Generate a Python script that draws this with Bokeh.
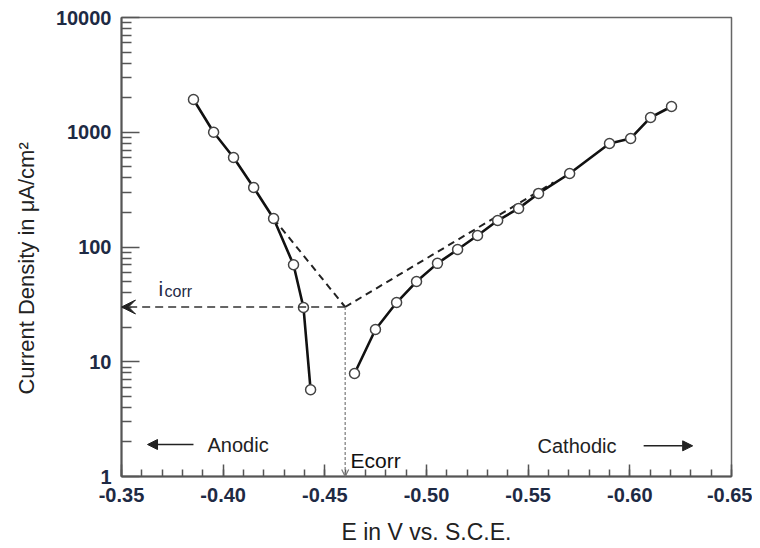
from bokeh.plotting import figure
from bokeh.models import (Range1d, FixedTicker, Arrow, NormalHead, OpenHead, VeeHead)
from bokeh.core.properties import value
from bokeh.embed import file_html
from bokeh.resources import INLINE

# ---- data ----
anodic_E = [-0.3854, -0.3953, -0.4051, -0.4150, -0.4248, -0.4346, -0.4395, -0.4430]
anodic_i = [1930, 1000, 603, 330, 177, 70, 29.7, 5.7]

cathodic_E = [-0.4646, -0.4749, -0.4853, -0.4951, -0.5054, -0.5153, -0.5251, -0.5350,
              -0.5453, -0.5551, -0.5704, -0.5900, -0.6004, -0.6102, -0.6205]
cathodic_i = [7.9, 19.1, 32.8, 50, 72, 95, 126, 170, 217, 293, 437, 798, 883, 1345, 1676]

tafel_anodic_E = [-0.4248, -0.4600]
tafel_anodic_i = [177, 30]
tafel_cathodic_E = [-0.4600, -0.5625]
tafel_cathodic_i = [30, 365]

E_corr = -0.46
i_corr = 30

x_ticks = [-0.35, -0.40, -0.45, -0.50, -0.55, -0.60, -0.65]
x_tick_labels = ["-0.35", "-0.40", "-0.45", "-0.50", "-0.55", "-0.60", "-0.65"]
y_ticks = [1, 10, 100, 1000, 10000]
y_tick_labels = ["1", "10", "100", "1000", "10000"]

FONT = "Liberation Sans"
TICK_COLOR = "#1e2a44"
TEXT_COLOR = "#222222"

p = figure(
    x_range=Range1d(-0.35, -0.65), y_range=Range1d(1, 10000), y_axis_type="log",
    frame_width=610, frame_height=459,
    min_border_left=121, min_border_top=17, min_border_right=21, min_border_bottom=64,
    output_backend="svg", toolbar_location=None,
    background_fill_color="white", border_fill_color="white",
)
p.grid.visible = False
p.outline_line_color = "#666666"
p.outline_line_width = 1.5

x_minor = [round(-0.35 - 0.01 * k, 2) for k in range(31)]
y_minor = [m * 10 ** d for d in range(4) for m in range(2, 10)]
p.xaxis.ticker = FixedTicker(ticks=x_ticks, minor_ticks=x_minor)
p.yaxis.ticker = FixedTicker(ticks=y_ticks, minor_ticks=y_minor)
p.xaxis.major_label_overrides = {t: l for t, l in zip(x_ticks, x_tick_labels)}
p.yaxis.major_label_overrides = {t: l for t, l in zip(y_ticks, y_tick_labels)}

for ax in (p.xaxis, p.yaxis):
    ax.axis_line_color = "#555555"
    ax.axis_line_width = 2
    ax.major_tick_line_color = "#555555"
    ax.minor_tick_line_color = "#555555"
    ax.major_tick_line_width = 1.5
    ax.minor_tick_line_width = 1.5
    ax.major_tick_out = 0
    ax.minor_tick_out = 0
    ax.major_label_text_font = FONT
    ax.major_label_text_font_size = "20px"
    ax.major_label_text_color = TICK_COLOR
    ax.major_label_text_font_style = "bold"
    ax.axis_label_text_font = FONT
    ax.axis_label_text_font_style = "normal"
    ax.axis_label_text_color = TEXT_COLOR

p.xaxis.major_tick_in = 12
p.xaxis.minor_tick_in = 7
p.yaxis.major_tick_in = 18
p.yaxis.minor_tick_in = 10
p.xaxis.major_label_standoff = 11
p.yaxis.major_label_standoff = 10
p.xaxis.axis_label = "E in V vs. S.C.E."
p.xaxis.axis_label_text_font_size = "23px"
p.xaxis.axis_label_standoff = 14
p.yaxis.axis_label = "Current Density in \u03bcA/cm\u00b2" + "\u00a0" * 7
p.yaxis.axis_label_text_font_size = "22px"
p.yaxis.axis_label_standoff = 14

# Tafel extrapolations
p.line(tafel_anodic_E, tafel_anodic_i, line_color="#222222", line_width=2, line_dash="7 5")
p.line(tafel_cathodic_E, tafel_cathodic_i, line_color="#222222", line_width=2, line_dash="7 5")

# i_corr horizontal arrow and E_corr vertical arrow
p.add_layout(Arrow(x_start=E_corr, y_start=i_corr, x_end=-0.35, y_end=i_corr,
                   line_color="#333333", line_width=1.5, line_dash="8 5",
                   end=VeeHead(size=14, line_color="#222222", fill_color="#222222", line_width=1)))
p.add_layout(Arrow(x_start=E_corr, y_start=i_corr, x_end=E_corr, y_end=1,
                   line_color="#777777", line_width=1.2, line_dash="3 2",
                   end=OpenHead(size=7, line_color="#777777", line_width=1.2)))

# measured curves
p.line(anodic_E, anodic_i, line_color="#111111", line_width=2.6)
p.line(cathodic_E, cathodic_i, line_color="#111111", line_width=2.6)
p.scatter(anodic_E, anodic_i, size=10, marker="circle", fill_color="white",
          line_color="#444444", line_width=1.5)
p.scatter(cathodic_E, cathodic_i, size=10, marker="circle", fill_color="white",
          line_color="#444444", line_width=1.5)

# labels
p.text(x=[-0.3682], y=[i_corr], text=["i"], y_offset=-19, text_font=value(FONT),
       text_font_size="21px", text_color=TICK_COLOR, text_baseline="alphabetic")
p.text(x=[-0.3712], y=[i_corr], text=["corr"], y_offset=-16, text_font=value(FONT),
       text_font_size="16px", text_color=TICK_COLOR, text_baseline="alphabetic")
p.text(x=[-0.4626], y=[1], text=["Ecorr"], y_offset=-16, text_font=value(FONT),
       text_font_size="21px", text_color="#111111", text_baseline="alphabetic")
p.text(x=[-0.3923], y=[1.9], text=["Anodic"], text_font=value(FONT),
       text_font_size="20px", text_color=TEXT_COLOR, text_baseline="middle")
p.text(x=[-0.5546], y=[1.85], text=["Cathodic"], text_font=value(FONT),
       text_font_size="20px", text_color=TEXT_COLOR, text_baseline="middle")
p.add_layout(Arrow(x_start=-0.3854, y_start=1.9, x_end=-0.3628, y_end=1.9,
                   line_color="#222222", line_width=1.5,
                   end=NormalHead(size=10, line_color="#222222", fill_color="#222222")))
p.add_layout(Arrow(x_start=-0.6068, y_start=1.85, x_end=-0.6309, y_end=1.85,
                   line_color="#222222", line_width=1.5,
                   end=NormalHead(size=10, line_color="#222222", fill_color="#222222")))

open("out.html", "w").write(file_html(p, INLINE))
